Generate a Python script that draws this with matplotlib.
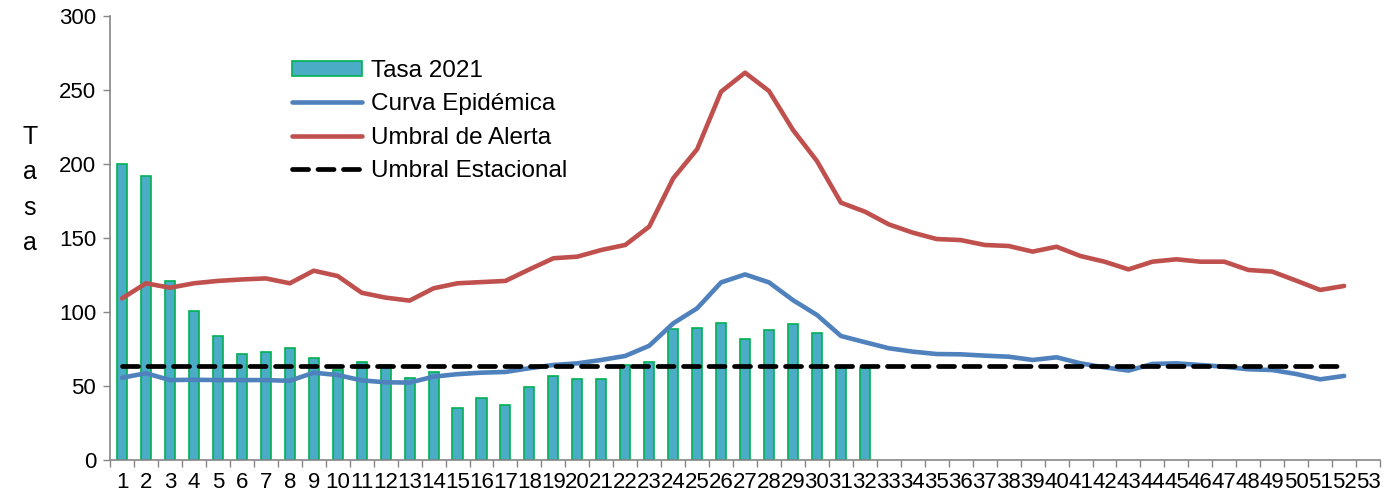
import matplotlib
matplotlib.use("Agg")
import matplotlib.pyplot as plt
import numpy as np

plt.rcParams['font.family'] = ['Liberation Sans', 'DejaVu Sans']

weeks = [str(i) for i in range(1, 54)]

tasa_2021 = [200, 192, 121, 100.5, 84, 71.5, 73, 76, 69, 61, 66, 64, 55.5, 59.7,
             35, 42, 37, 49, 56.5, 55, 55, 64.5, 66, 88.3, 89.4, 92.6, 81.5, 87.8,
             91.9, 86, 62, 62.4]

curva_epidemica = [55.6, 58.6, 54, 54.2, 54, 54, 54, 53.5, 59, 57.4, 53.8, 52.5, 52.3,
                   56.3, 58, 59, 59.5, 62, 64.2, 65.3, 67.6, 70.3, 77.2, 92.3, 102.5,
                   120, 125.4, 120, 108, 98, 83.8, 79.6, 75.5, 73.2, 71.6, 71.4, 70.5,
                   69.8, 67.6, 69.4, 65.3, 62.6, 60.4, 64.9, 65.3, 64.2, 63, 61.3,
                   60.8, 58.1, 54.5, 56.8]

umbral_alerta = [109.2, 119.4, 116.4, 119.4, 121, 122, 122.7, 119.4, 127.9, 124.3,
                 113, 109.7, 107.7, 116, 119.4, 120.2, 121, 128.8, 136.3, 137.4,
                 141.9, 145.3, 157.7, 190.3, 210, 248.9, 261.7, 249.3, 223, 202,
                 173.9, 167.8, 159.2, 153.6, 149.3, 148.6, 145.3, 144.6, 140.8,
                 144.1, 137.8, 134, 128.8, 134, 135.6, 134, 134, 128.4, 127.3,
                 121.2, 114.9, 117.6]

umbral_estacional = [63.3] * 52

fig = plt.figure(figsize=(13.95, 4.96), dpi=100)
ax = fig.add_axes([0.0789, 0.0726, 0.9104, 0.8951])

x_all = np.arange(len(weeks))
bars = ax.bar(x_all[:len(tasa_2021)], tasa_2021, width=0.42, color='#4BACC6',
              edgecolor='#00B050', linewidth=1.2, label='Tasa 2021', zorder=2)
l1, = ax.plot(x_all[:len(curva_epidemica)], curva_epidemica, color='#4F81BD', lw=3.3,
              label='Curva Epidémica', zorder=3, solid_capstyle='round')
l2, = ax.plot(x_all[:len(umbral_alerta)], umbral_alerta, color='#C0504D', lw=3.3,
              label='Umbral de Alerta', zorder=3, solid_capstyle='round')
l3, = ax.plot(x_all[:len(umbral_estacional)], umbral_estacional, color='black', lw=3.4,
              linestyle=(0, (3.4, 2.0)), dash_capstyle='round',
              label='Umbral Estacional', zorder=4)

ax.set_xlim(-0.5, len(weeks) - 0.5)
ax.set_ylim(0, 300)
ax.set_yticks(range(0, 301, 50))
ax.set_xticks(x_all)
ax.set_xticklabels(weeks)
ax.set_xticks(np.arange(-0.5, len(weeks), 1), minor=True)
ax.tick_params(axis='x', which='major', length=0, labelsize=16, pad=9)
ax.tick_params(axis='x', which='minor', length=5, color='#868686', width=1)
ax.tick_params(axis='y', length=5, color='#868686', width=1, labelsize=16, pad=5)

for s in ['top', 'right']:
    ax.spines[s].set_visible(False)
for s in ['left', 'bottom']:
    ax.spines[s].set_color('#868686')
    ax.spines[s].set_linewidth(1.2)

fig.text(30 / 1395, 1 - 190 / 496, 'T\na\ns\na', fontsize=18, ha='center',
         va='center', linespacing=1.6)

leg = ax.legend([bars, l1, l2, l3],
                ['Tasa 2021', 'Curva Epidémica', 'Umbral de Alerta', 'Umbral Estacional'],
                loc='upper left', bbox_to_anchor=(292 / 1395, 1 - 60 / 496),
                bbox_transform=fig.transFigure, frameon=False, fontsize=17.5,
                handlelength=2.9, handletextpad=0.33, labelspacing=0.47,
                handleheight=0.55, borderaxespad=0, borderpad=0)

fig.savefig('out.png', dpi=100)
